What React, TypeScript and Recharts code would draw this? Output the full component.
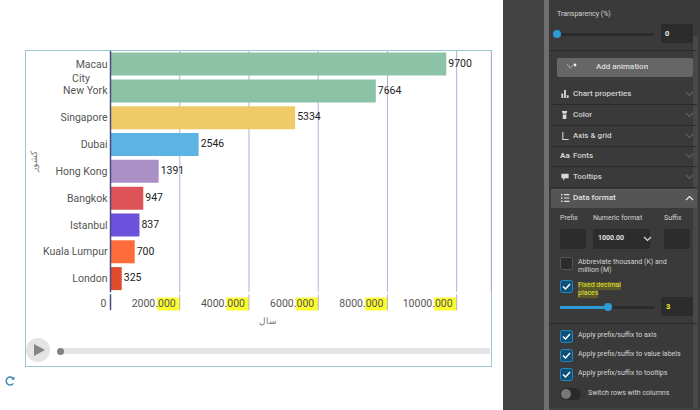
import { BarChart, Bar, Cell, CartesianGrid, XAxis, YAxis, LabelList } from 'recharts'

const cities = ['Macau', 'New York City', 'Singapore', 'Dubai', 'Hong Kong', 'Bangkok', 'Istanbul', 'Kuala Lumpur', 'London']
const values = [9700, 7664, 5334, 2546, 1391, 947, 837, 700, 325]
const barColors = ['#8cc3a6', '#8cc3a6', '#efca66', '#5cb3e4', '#ab8fc7', '#dd5357', '#6b51db', '#fd6c3a', '#df4c2c']
const xTicks = [0, 2000, 4000, 6000, 8000, 10000]
const menuRows = ['Chart properties', 'Color', 'Axis & grid', 'Fonts', 'Tooltips']
const applyRows = ['Apply prefix/suffix to axis', 'Apply prefix/suffix to value labels', 'Apply prefix/suffix to tooltips']

const data = cities.map((city, i) => ({ city, value: values[i] }))

const FONT = 'Roboto, sans-serif'
const GRID = '#b3b0d6'
const AXIS = '#4a4a80'

// tick with the three decimals marked in yellow, right aligned on the grid line
function XTick({ x, y, payload }: any) {
  if (payload.value === 0) {
    return (
      <g>
        <line x1={x} x2={x} y1={y - 16} y2={y} stroke={AXIS} strokeWidth={1.5} />
        <text x={x - 4} y={y - 6} textAnchor="end" dominantBaseline="middle" fontSize={10.5} fontFamily={FONT} fill="#555">0</text>
      </g>
    )
  }
  return (
    <g>
      <rect x={x - 22.5} y={y - 12.7} width={22.5} height={13} fill="#fdfc2e" />
      <line x1={x} x2={x} y1={y - 16} y2={y} stroke={GRID} />
      <text x={x - 4} y={y - 6} textAnchor="end" dominantBaseline="middle" fontSize={10.5} fontFamily={FONT} fill="#555">
        {payload.value}.000
      </text>
    </g>
  )
}

function YTick({ x, y, payload }: any) {
  const common = { fontSize: 10.5, fontFamily: FONT, fill: '#555', dominantBaseline: 'middle' as const }
  if (payload.value === 'New York City') {
    return (
      <g>
        <text {...common} x={81} y={y - 11.5} textAnchor="middle">City</text>
        <text {...common} x={x} y={y + 0.5} textAnchor="end">New York</text>
      </g>
    )
  }
  return <text {...common} x={x} y={y + 0.7} textAnchor="end">{payload.value}</text>
}

const abs = (left: number, top: number, width: number, height: number, extra: any = {}): any => ({
  position: 'absolute', left, top, width, height, ...extra,
})

function Txt({ x, y, children, size = 7, color = '#d4d4d4', weight = 400, bg }: any) {
  return (
    <div style={{
      position: 'absolute', left: x, top: y, transform: 'translateY(-50%)', fontSize: size, color, fontWeight: weight,
      whiteSpace: 'nowrap', lineHeight: 1.1, background: bg,
    }}>
      {children}
    </div>
  )
}

function Chevron({ x, y, color = '#666', up = false }: any) {
  return (
    <svg style={abs(x, y - 3, 9, 6)} viewBox="0 0 9 6">
      <path d={up ? 'M1 5 L4.5 1.5 L8 5' : 'M1 1 L4.5 4.5 L8 1'} fill="none" stroke={color} strokeWidth={1.2} />
    </svg>
  )
}

function Check({ x, y }: any) {
  return (
    <svg style={abs(x, y - 6.5, 13, 13)} viewBox="0 0 13 13">
      <rect x={0.5} y={0.5} width={12} height={12} rx={2} fill="#0f5079" stroke="#2b86bd" />
      <path d="M3 6.5 L5.5 9 L10 4" fill="none" stroke="#fff" strokeWidth={1.5} />
    </svg>
  )
}

const menuIcons = [
  'M1 5h2v5H1z M4 1h2v9H4z M7 7h2v3H7z',
  'M1.5 1h6l-1 3h-4z M2.5 5h4v5h-4z',
  'M2 1h1.2v7.8H9V10H2z',
  '',
  'M1 2h8v5H5L3 9.5V7H1z',
]

function Panel() {
  return (
    <div style={{ ...abs(503, 0, 197, 410, { background: '#434343', fontFamily: FONT }) }}>
      <div style={abs(41, 0, 5, 410, { background: '#6f6f6f' })} />
      <div style={abs(46, 0, 151, 408, { background: '#3a3a3a' })}>
        <div style={abs(144, 36, 5, 372, { background: '#484848' })} />
        <div style={{ position: 'absolute', left: -549, top: 0, width: 700, height: 410 }}>
          <Txt x={557} y={15}>Transparency (%)</Txt>
          <div style={abs(557, 32.5, 97, 3, { background: '#2b2b2b' })} />
          <div style={abs(553, 30, 8, 8, { background: '#2f9bd6', borderRadius: 4 })} />
          <div style={abs(661, 24, 32, 19, { background: '#2c2c2c', borderRadius: 2 })} />
          <Txt x={665} y={34} size={7.5} color="#eee" weight={700}>0</Txt>
          <div style={abs(549, 50, 148, 1, { background: '#2b2b2b' })} />
          <div style={abs(557, 58, 136, 19, { background: '#666', borderRadius: 2 })} />
          <svg style={abs(566, 62, 12, 8)} viewBox="0 0 12 8">
            <path d="M1 2 L4 6 L7 3" fill="none" stroke="#bbb" strokeWidth={0.8} />
            <circle cx={9} cy={3} r={1.4} fill="#eee" />
          </svg>
          <Txt x={596} y={67} size={8} weight={500} color="#ddd">Add animation</Txt>
          {menuRows.map((row, i) => {
            const y = 94 + i * 20.8
            return (
              <div key={row}>
                <div style={abs(551, y + 10, 146, 1, { background: '#2b2b2b' })} />
                {menuIcons[i] ? (
                  <svg style={abs(560, y - 5, 10, 10)} viewBox="0 0 10 11"><path d={menuIcons[i]} fill="#d8d8d8" /></svg>
                ) : (
                  <Txt x={560} y={y} size={8} weight={700} color="#d8d8d8">Aa</Txt>
                )}
                <Txt x={573} y={y} size={8} weight={500} color="#d0d0d0">{row}</Txt>
                <Chevron x={685} y={y} color="#5e5e5e" />
              </div>
            )
          })}
          <div style={abs(551, 189, 146, 19, { background: '#555' })} />
          <svg style={abs(560, 193, 10, 10)} viewBox="0 0 10 10">
            <path d="M1 1h1.5v1.5H1z M1 4.2h1.5v1.5H1z M1 7.5h1.5V9H1z M4 1h5.5v1.2H4z M4 4.4h5.5v1.2H4z M4 7.7h5.5v1.2H4z" fill="#ddd" />
          </svg>
          <Txt x={573} y={198} size={8} weight={500} color="#e0e0e0">Data format</Txt>
          <Chevron x={685} y={198} color="#eee" up />

          <Txt x={560} y={219}>Prefix</Txt>
          <Txt x={593} y={219}>Numeric format</Txt>
          <Txt x={664} y={219}>Suffix</Txt>
          <div style={abs(560, 229, 26, 20, { background: '#2c2c2c', borderRadius: 2 })} />
          <div style={abs(593, 229, 57, 20, { background: '#2c2c2c', borderRadius: 2 })} />
          <div style={abs(664, 229, 26, 20, { background: '#2c2c2c', borderRadius: 2 })} />
          <Txt x={598} y={239} weight={600} color="#eee">1000.00</Txt>
          <Chevron x={643} y={239} color="#ddd" />

          <div style={abs(560, 257, 13, 13, { background: '#2c2c2c', border: '1px solid #555', borderRadius: 2, boxSizing: 'border-box' })} />
          <Txt x={578} y={263}>Abbreviate thousand (K) and</Txt>
          <Txt x={578} y={270.5}>million (M)</Txt>

          <Check x={560} y={286} />
          <Txt x={578} y={286} color="#e4e23c" bg="#5a5a28">Fixed decimal</Txt>
          <Txt x={578} y={294} color="#e4e23c" bg="#5a5a28">places</Txt>
          <div style={abs(560, 305.5, 94, 3, { background: '#2b2b2b' })} />
          <div style={abs(560, 305.5, 48, 3, { background: '#2f9bd6' })} />
          <div style={abs(604, 303, 8, 8, { background: '#2f9bd6', borderRadius: 4 })} />
          <div style={abs(661, 297, 32, 19, { background: '#2c2c2c', borderRadius: 2 })} />
          <Txt x={666} y={307} size={7.5} color="#f4f230" weight={700}>3</Txt>
          <div style={abs(549, 323, 148, 1, { background: '#2b2b2b' })} />

          {applyRows.map((row, i) => (
            <div key={row}>
              <Check x={560} y={336 + i * 19} />
              <Txt x={578} y={336 + i * 19}>{row}</Txt>
            </div>
          ))}
          <div style={abs(560, 388, 21, 12, { background: '#2a2a2a', borderRadius: 6 })} />
          <div style={abs(561, 389, 10, 10, { background: '#777', borderRadius: 5 })} />
          <Txt x={588} y={394}>Switch rows with columns</Txt>
        </div>
      </div>
    </div>
  )
}

export default function App() {
  return (
    <div style={{ position: 'absolute', left: 0, top: 0, width: 700, height: 410, overflow: 'hidden', background: '#fff', fontFamily: FONT }}>
      <div style={abs(25, 50, 466.5, 316.5, { border: '1px solid #9cc5d6', boxSizing: 'border-box' })} />
      <div style={{ position: 'absolute', left: 0, top: 0 }}>
        <BarChart
          width={700}
          height={410}
          layout="vertical"
          data={data}
          margin={{ top: 50.9, right: 208.7, bottom: 87.8, left: 25 }}
          barCategoryGap="6.4%"
        >
          <CartesianGrid horizontal={false} stroke={GRID} />
          <XAxis
            type="number"
            domain={[0, 11000]}
            ticks={xTicks}
            interval={0}
            height={30}
            tickSize={16}
            tickLine={false}
            axisLine={false}
            tick={XTick}
            label={{ value: 'سال', position: 'insideBottom', dx: -33, dy: 7, fontSize: 9, fill: '#777' }}
          />
          <YAxis
            type="category"
            dataKey="city"
            width={85.5}
            interval={0}
            tickSize={0}
            tickMargin={3}
            tick={YTick}
            axisLine={{ stroke: AXIS, strokeWidth: 1.5 }}
            tickLine={false}
            label={{ value: 'کشور', angle: -90, position: 'insideLeft', offset: 9, fontSize: 9, fill: '#777' }}
          />
          <Bar dataKey="value" isAnimationActive={false}>
            {data.map((d, i) => (
              <Cell key={d.city} fill={barColors[i]} />
            ))}
            <LabelList dataKey="value" position="right" offset={2} dy={-1} fontSize={10.5} fontFamily={FONT} fill="#222" />
          </Bar>
        </BarChart>
      </div>
      <div style={abs(26, 338, 24, 24, { background: '#e4e4e4', borderRadius: 12 })} />
      <svg style={abs(33, 343, 13, 14)} viewBox="0 0 13 14"><path d="M1 1 L12 7 L1 13 Z" fill="#858585" /></svg>
      <div style={abs(58, 348, 432, 6, { background: '#e5e5e5' })} />
      <div style={abs(57, 348, 6.5, 6.5, { background: '#808080', borderRadius: 4 })} />
      <svg style={abs(5, 376, 10, 10)} viewBox="0 0 10 10">
        <path d="M8.4 2.6 A4 4 0 1 0 8.4 7.4" fill="none" stroke="#3b87b5" strokeWidth={1.5} />
        <path d="M9.5 0.5 V3.8 H6.2 Z" fill="#3b87b5" />
      </svg>
      <Panel />
    </div>
  )
}
